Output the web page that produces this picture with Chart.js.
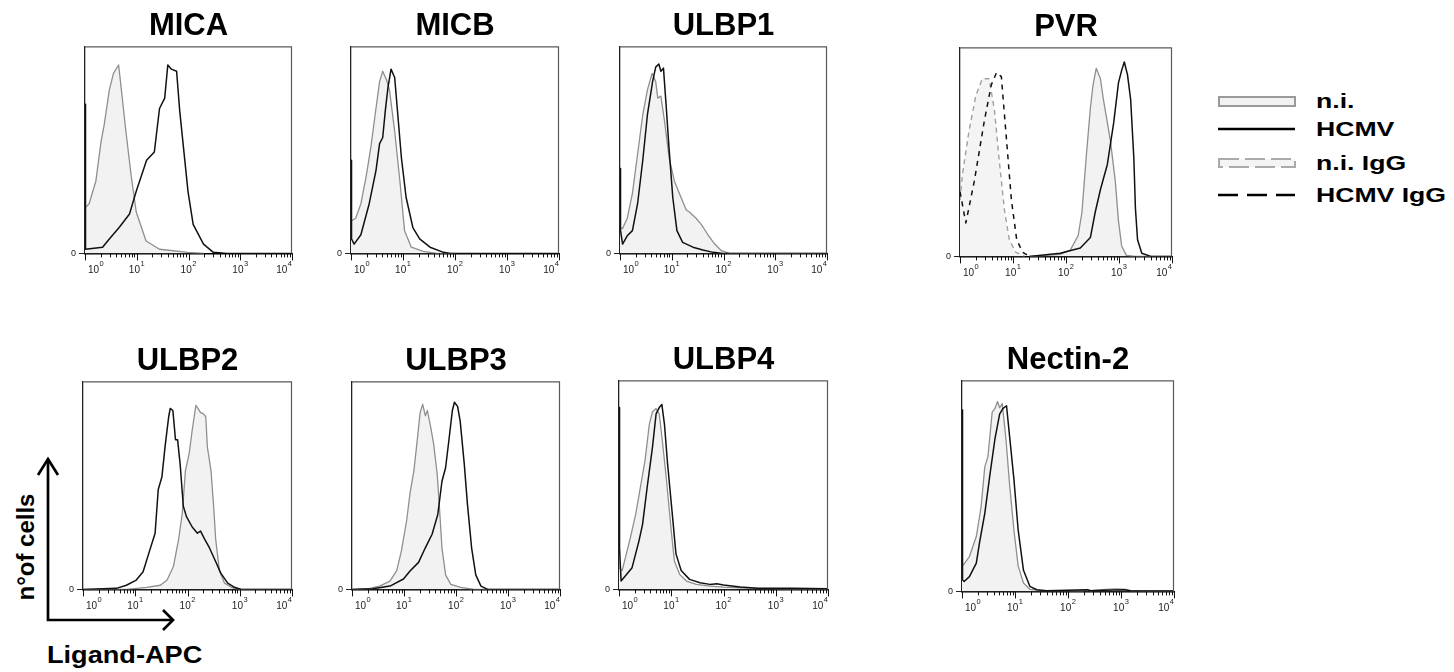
<!DOCTYPE html>
<html><head><meta charset="utf-8">
<script src="https://cdn.jsdelivr.net/npm/chart.js@4.4.1/dist/chart.umd.min.js"></script>
<style>
html,body{margin:0;padding:0;background:#fff;}
body{width:1454px;height:672px;position:relative;overflow:hidden;font-family:"Liberation Sans",Arial,sans-serif;color:#000;}
.panel{position:absolute;}
.title{position:absolute;font-weight:bold;font-size:31px;line-height:31px;text-align:center;white-space:nowrap;}
.leg{position:absolute;font-weight:bold;font-size:20px;line-height:20px;white-space:nowrap;transform:scaleX(1.33);transform-origin:0 50%;}
.ann{position:absolute;font-weight:bold;font-size:24px;line-height:24px;white-space:nowrap;}
svg.ov{position:absolute;left:0;top:0;overflow:visible;}
</style></head>
<body>
<script>
// ---------------- DATA (log10 fluorescence, % of panel height) ----------------
const xTickValues = [1,2,3,4,5,6,7,8,9,10,20,30,40,50,60,70,80,90,100,200,300,400,500,600,700,800,900,1000,2000,3000,4000,5000,6000,7000,8000,9000,10000];
const xTickBase = '10';
const xTickExponents = {1:'0',10:'1',100:'2',1000:'3',10000:'4'};
const yTickLabels = ['0'];
const panelTitles = ['MICA','MICB','ULBP1','PVR','ULBP2','ULBP3','ULBP4','Nectin-2'];
const legendLabels = ['n.i.','HCMV','n.i. IgG','HCMV IgG'];
const axisLabels = ['n\u00B0of cells','Ligand-APC'];

const micaNiLog   = [0,0.08,0.21,0.31,0.37,0.47,0.55,0.65,0.69,0.79,0.89,0.99,1.18,1.44,1.99,2.3];
const micaNiVal   = [22,24,35,54,62,79,87,91,82,59,38,20,6,2,0.5,0];
const micaHcmvLog = [0,0.01,0.34,0.47,0.66,0.86,0.99,1.19,1.34,1.44,1.54,1.60,1.67,1.77,1.83,1.99,2.09,2.29,2.48,2.74,4];
const micaHcmvVal = [72,2,3,7,12.5,19,30,45,49,70,75,91,89,88,69,30,14,4.5,0.5,0,0];

const micbNiLog   = [0,0.03,0.09,0.19,0.29,0.38,0.48,0.55,0.61,0.68,0.74,0.84,0.94,1.03,1.16,1.39,1.65,2];
const micbNiVal   = [16,16,17,24,37,51,70,83,88,84,79,59,35,11,3,1,0,0];
const micbHcmvLog = [0,0.01,0.06,0.19,0.35,0.48,0.55,0.61,0.66,0.71,0.77,0.84,0.90,0.97,1.06,1.19,1.32,1.52,1.78,1.91,4];
const micbHcmvVal = [45,7,4.5,9,24,40,53,56,69,80,89,85,67,46,27,12.5,7,3,0.5,0,0];

const ulbp1NiLog   = [0,0.05,0.14,0.24,0.34,0.44,0.53,0.62,0.69,0.73,0.79,0.86,0.95,1.05,1.18,1.28,1.34,1.47,1.57,1.70,1.83,1.96,2.12,4];
const ulbp1NiVal   = [12.5,12,17,29,48,67,79,87,83,75,76,64,46,35,27,21,20,17,14,9,4.5,1.3,0,0];
const ulbp1HcmvLog = [0,0.01,0.05,0.14,0.24,0.34,0.44,0.53,0.63,0.69,0.75,0.79,0.84,0.89,0.95,1.02,1.10,1.21,1.41,1.60,1.80,1.99,4];
const ulbp1HcmvVal = [41,11,4.5,8.5,11,24,45,67,83,90,91.5,88,89.5,72,50,27,11,5.3,3,1.6,0.5,0,0];

const pvrNiLog      = [1.3,1.89,2.08,2.23,2.30,2.38,2.46,2.51,2.57,2.65,2.70,2.84,2.93,2.99,3.05,3.14,3.31,4];
const pvrNiVal      = [0,1,3,10,21,47,71,82,90,85,76,55,36,17,5,0.5,0,0];
const pvrHcmvLog    = [1.31,1.89,2.27,2.46,2.55,2.65,2.78,2.90,2.99,3.05,3.10,3.16,3.22,3.28,3.31,3.35,3.43,3.6,4];
const pvrHcmvVal    = [0,1.5,4,9,21,32,44,64,83,89,93,87,75,47,23,8,1.5,0,0];
const pvrNiIgGLog   = [0,0.05,0.17,0.30,0.42,0.55,0.65,0.74,0.84,0.93,1.05,1.22];
const pvrNiIgGVal   = [27,40,60,77,85,85,70,46,22,8,2,0];
const pvrHcmvIgGLog = [0,0.11,0.27,0.46,0.59,0.69,0.78,0.88,0.97,1.07,1.18,1.31];
const pvrHcmvIgGVal = [31,16,36,65,82,88,86,55,27,8,2,0];

const ulbp2NiLog   = [0,0.83,1.22,1.48,1.61,1.73,1.83,1.90,1.96,2.03,2.09,2.16,2.20,2.25,2.30,2.35,2.38,2.45,2.50,2.54,2.61,2.71,2.84,2.96,4];
const ulbp2NiVal   = [0,0,1,2,4.5,11,24,36.5,57,65,76.5,88.5,87,85,84.5,83,68.5,57,40,24,9,3,1,0,0];
const ulbp2HcmvLog = [0,0.64,0.83,1.02,1.15,1.28,1.38,1.44,1.51,1.57,1.64,1.67,1.72,1.77,1.81,1.86,1.92,1.98,2.09,2.19,2.25,2.32,2.41,2.51,2.64,2.77,2.90,3.03,4];
const ulbp2HcmvVal = [0,0.5,2,4.5,8.5,19,27,48,54,68.5,83,87,86,72,72,60,40,35,30,27,28,24.5,20.5,15,7.7,3,1,0,0];

const ulbp3NiLog   = [0,0.34,0.53,0.73,0.86,0.95,1.05,1.12,1.19,1.26,1.31,1.36,1.41,1.45,1.51,1.57,1.64,1.69,1.73,1.80,1.90,2.09,2.35,4];
const ulbp3NiVal   = [0,0.5,1.6,4,9,18.5,33,47,57,73,85,89,83.5,86,78.5,70,55,36,20,7,2.4,1,0,0];
const ulbp3HcmvLog = [0,0.40,0.73,0.99,1.12,1.28,1.41,1.54,1.65,1.73,1.80,1.86,1.93,1.97,2.03,2.08,2.16,2.22,2.30,2.38,2.48,2.61,4];
const ulbp3HcmvVal = [0,0.3,1.6,5,9,13,20,26.5,36,52,58.5,71,86,90,88,81,60,41,20,7,1.6,0,0];

const ulbp4NiLog   = [0,0.06,0.12,0.22,0.32,0.41,0.50,0.58,0.64,0.71,0.77,0.83,0.91,1.00,1.06,1.16,1.29,1.48,1.74,2.00,2.32,2.65,3.29,4];
const ulbp4NiVal   = [10.4,9,15,25,36,49,62,79,85,86.5,84,71,52,28,13.6,7.2,4,2.4,1.6,1.1,0.8,0.5,0.3,0.2];
const ulbp4HcmvLog = [0,0.01,0.04,0.12,0.25,0.38,0.45,0.54,0.64,0.71,0.77,0.82,0.87,0.93,1.02,1.09,1.19,1.35,1.55,1.74,1.87,2.00,2.32,2.65,3.29,4];
const ulbp4HcmvVal = [87,20,4,6.4,10.4,23,31,49,68,84,87,88.5,79,60,36,17,9,4.8,3.2,2.4,2.7,2.1,1.1,0.6,0.5,0.3];

const nectinNiLog   = [0,0.04,0.14,0.27,0.36,0.43,0.49,0.57,0.62,0.67,0.71,0.76,0.83,0.90,0.98,1.06,1.16,1.28,1.47,2.3,2.36,2.42,2.7,2.9,3.1,3.2,4];
const nectinNiVal   = [12,13,16.5,26,40,59,64,85,86.6,90,87,89,72,50,29,12,4,1,0.5,0.3,1,0.3,1,1.2,1,0.3,0.2];
const nectinHcmvLog = [0,0.01,0.04,0.14,0.27,0.33,0.43,0.52,0.62,0.71,0.77,0.84,0.90,0.98,1.06,1.16,1.28,1.41,1.60,2.36,2.43,2.68,3.06,3.19,4];
const nectinHcmvVal = [86,5.5,4.7,7,13.4,23,37,54,72,84,86.6,88,73,53,29,10,2.4,0.8,0.3,0.8,0.3,0.6,0.8,0.2,0.2];

// ---------------- STYLES / LAYOUT ----------------
const FONT = '"Liberation Sans", Arial, sans-serif';
const STY = {
  ni:      {borderColor:'#8f8f8f', borderWidth:1.3, fill:'origin', backgroundColor:'#f2f2f2'},
  hcmv:    {borderColor:'#111111', borderWidth:1.5, fill:false},
  niIgG:   {borderColor:'#a0a0a0', borderWidth:1.4, borderDash:[5,4], fill:'origin', backgroundColor:'#f4f4f4'},
  hcmvIgG: {borderColor:'#111111', borderWidth:1.5, borderDash:[5,5], fill:false}
};
const layout = [
  {left:85,  top:46,  w:207, h:207, series:[['hcmv',micaHcmvLog,micaHcmvVal],['ni',micaNiLog,micaNiVal]]},
  {left:351, top:46,  w:208, h:207, series:[['hcmv',micbHcmvLog,micbHcmvVal],['ni',micbNiLog,micbNiVal]]},
  {left:620, top:46,  w:207, h:207, series:[['hcmv',ulbp1HcmvLog,ulbp1HcmvVal],['ni',ulbp1NiLog,ulbp1NiVal]]},
  {left:960, top:47,  w:212, h:209, series:[['hcmvIgG',pvrHcmvIgGLog,pvrHcmvIgGVal],['hcmv',pvrHcmvLog,pvrHcmvVal],['niIgG',pvrNiIgGLog,pvrNiIgGVal],['ni',pvrNiLog,pvrNiVal]]},
  {left:83,  top:381, w:209, h:208, series:[['hcmv',ulbp2HcmvLog,ulbp2HcmvVal],['ni',ulbp2NiLog,ulbp2NiVal]]},
  {left:352, top:381, w:208, h:208, series:[['hcmv',ulbp3HcmvLog,ulbp3HcmvVal],['ni',ulbp3NiLog,ulbp3NiVal]]},
  {left:619, top:380, w:209, h:209, series:[['hcmv',ulbp4HcmvLog,ulbp4HcmvVal],['ni',ulbp4NiLog,ulbp4NiVal]]},
  {left:962, top:380, w:212, h:211, series:[['hcmv',nectinHcmvLog,nectinHcmvVal],['ni',nectinNiLog,nectinNiVal]]}
];

// frame (top/right), x tick marks and superscript decade labels, placed with the chart's own x scale
const framePlugin = {
  id:'frame',
  afterDraw(chart){
    const {ctx, chartArea:a, scales:{x}} = chart;
    ctx.save();
    ctx.strokeStyle = '#5a5a5a'; ctx.lineWidth = 1.2;
    ctx.beginPath();
    ctx.moveTo(a.left, a.top + 0.5); ctx.lineTo(a.right - 0.5, a.top + 0.5); ctx.lineTo(a.right - 0.5, a.bottom);
    ctx.stroke();
    ctx.strokeStyle = '#111'; ctx.lineWidth = 1;
    x.ticks.forEach(t => {
      const px = Math.round(x.getPixelForValue(t.value)) + 0.5;
      const len = t.major ? 7 : 4;
      ctx.beginPath(); ctx.moveTo(px, a.bottom); ctx.lineTo(px, a.bottom + len); ctx.stroke();
    });
    const decs = x.ticks.filter(t => t.major);
    ctx.fillStyle = '#222'; ctx.textBaseline = 'alphabetic';
    decs.forEach((t, i) => {
      const px = x.getPixelForValue(t.value);
      const exp = xTickExponents[t.value];
      ctx.font = '10px ' + FONT; const wb = ctx.measureText(xTickBase).width;
      ctx.font = '7.5px ' + FONT; const we = ctx.measureText(exp).width;
      let cx;
      if (i === 0) cx = px + 3 + wb / 2;
      else if (i === decs.length - 1) cx = px - we - 0.5 - wb / 2;
      else cx = px - (we + 0.5) / 2;
      ctx.font = '10px ' + FONT; ctx.textAlign = 'center';
      ctx.fillText(xTickBase, cx, a.bottom + 20);
      ctx.font = '7.5px ' + FONT; ctx.textAlign = 'left';
      ctx.fillText(exp, cx + wb / 2 + 0.5, a.bottom + 13);
    });
    ctx.restore();
  }
};

function makePanel(p, title){
  const PADL = 40, PADT = 6, PADB = 32, PADR = 6;
  let W = p.w + PADL + PADR, H = p.h + PADT + PADB;
  const wrap = document.createElement('div'); wrap.className = 'panel';
  const cv = document.createElement('canvas');
  cv.width = W; cv.height = H; cv.style.width = W + 'px'; cv.style.height = H + 'px';
  wrap.appendChild(cv); document.body.appendChild(wrap);
  const datasets = p.series.map(([k, lg, vl]) => Object.assign({
    data: lg.map((e, i) => ({x: Math.pow(10, e), y: vl[i]})),
    pointRadius: 0, tension: 0, borderJoinStyle:'round'
  }, STY[k]));
  const chart = new Chart(cv, {
    type:'line',
    data:{datasets},
    plugins:[framePlugin],
    options:{
      responsive:false, maintainAspectRatio:false, animation:false, devicePixelRatio:1, events:[],
      layout:{padding:{top:PADT, right:PADR, left:0, bottom:0}},
      plugins:{legend:{display:false}, tooltip:{enabled:false}, title:{display:false}},
      scales:{
        x:{type:'logarithmic', min:1, max:10000,
           afterBuildTicks: s => { s.ticks = xTickValues.map(v => ({value:v, major: xTickExponents[v] !== undefined})); },
           ticks:{display:false, autoSkip:false, maxRotation:0, minRotation:0},
           grid:{display:false, drawTicks:false},
           border:{display:true, color:'#000', width:1.5},
           afterFit: s => { s.height = PADB; }},
        y:{min:0, max:100,
           afterBuildTicks: s => { s.ticks = [{value:0}]; },
           ticks:{padding:3, color:'#222', font:{family:FONT, size:9}, callback: () => yTickLabels[0]},
           grid:{display:true, drawOnChartArea:false, drawTicks:true, tickLength:6, color:'#222', lineWidth:1},
           border:{display:true, color:'#222', width:1.3},
           afterFit: s => { s.width = PADL; }}
      }
    }
  });
  let a = chart.chartArea;
  const dw = p.w - (a.right - a.left), dh = p.h - (a.bottom - a.top);
  if (dw || dh) { W += dw; H += dh; chart.resize(W, H); a = chart.chartArea; }
  wrap.style.left = (p.left - a.left) + 'px';
  wrap.style.top = (p.top - a.top) + 'px';
  const t = document.createElement('div'); t.className = 'title';
  t.textContent = title;
  t.style.left = p.left + 'px'; t.style.width = p.w + 'px';
  t.style.top = (p.top - 37) + 'px';
  document.body.appendChild(t);
}
layout.forEach((p, i) => makePanel(p, panelTitles[i]));

// legend text (baselines ~ swatch centre + 7)
const legY = [101, 129, 163, 195];
legendLabels.forEach((txt, i) => {
  const d = document.createElement('div'); d.className = 'leg';
  d.textContent = txt; d.style.left = '1316px'; d.style.top = (legY[i] - 10) + 'px';
  document.body.appendChild(d);
});
// axis annotation texts
const yl = document.createElement('div'); yl.className = 'ann'; yl.textContent = axisLabels[0];
yl.style.left = '26px'; yl.style.top = '547px'; yl.style.transform = 'translate(-50%,-50%) rotate(-90deg)';
document.body.appendChild(yl);
const xl = document.createElement('div'); xl.className = 'ann'; xl.textContent = axisLabels[1];
xl.style.left = '47px'; xl.style.top = '644px'; xl.style.fontSize = '23px'; xl.style.lineHeight = '23px';
xl.style.transform = 'scaleX(1.18)'; xl.style.transformOrigin = '0 50%';
document.body.appendChild(xl);
</script>
<svg class="ov" width="1454" height="672" viewBox="0 0 1454 672">
  <!-- legend swatches -->
  <rect x="1219" y="97" width="76" height="9" fill="#f2f2f2" stroke="#9a9a9a" stroke-width="2"/>
  <line x1="1218" y1="129" x2="1295" y2="129" stroke="#000" stroke-width="2.7"/>
  <rect x="1219" y="159" width="76" height="8" fill="#f4f4f4" stroke="#aaaaaa" stroke-width="2" stroke-dasharray="20 6"/>
  <line x1="1218" y1="195" x2="1295" y2="195" stroke="#000" stroke-width="2.7" stroke-dasharray="20 9"/>
  <!-- axis arrows -->
  <polyline points="48,459 48,620 173,620" fill="none" stroke="#000" stroke-width="2.7"/>
  <polyline points="38,475 48,459 58,475" fill="none" stroke="#000" stroke-width="2.7"/>
  <polyline points="163,610 173,620 163,630" fill="none" stroke="#000" stroke-width="2.7"/>
</svg>
</body></html>
